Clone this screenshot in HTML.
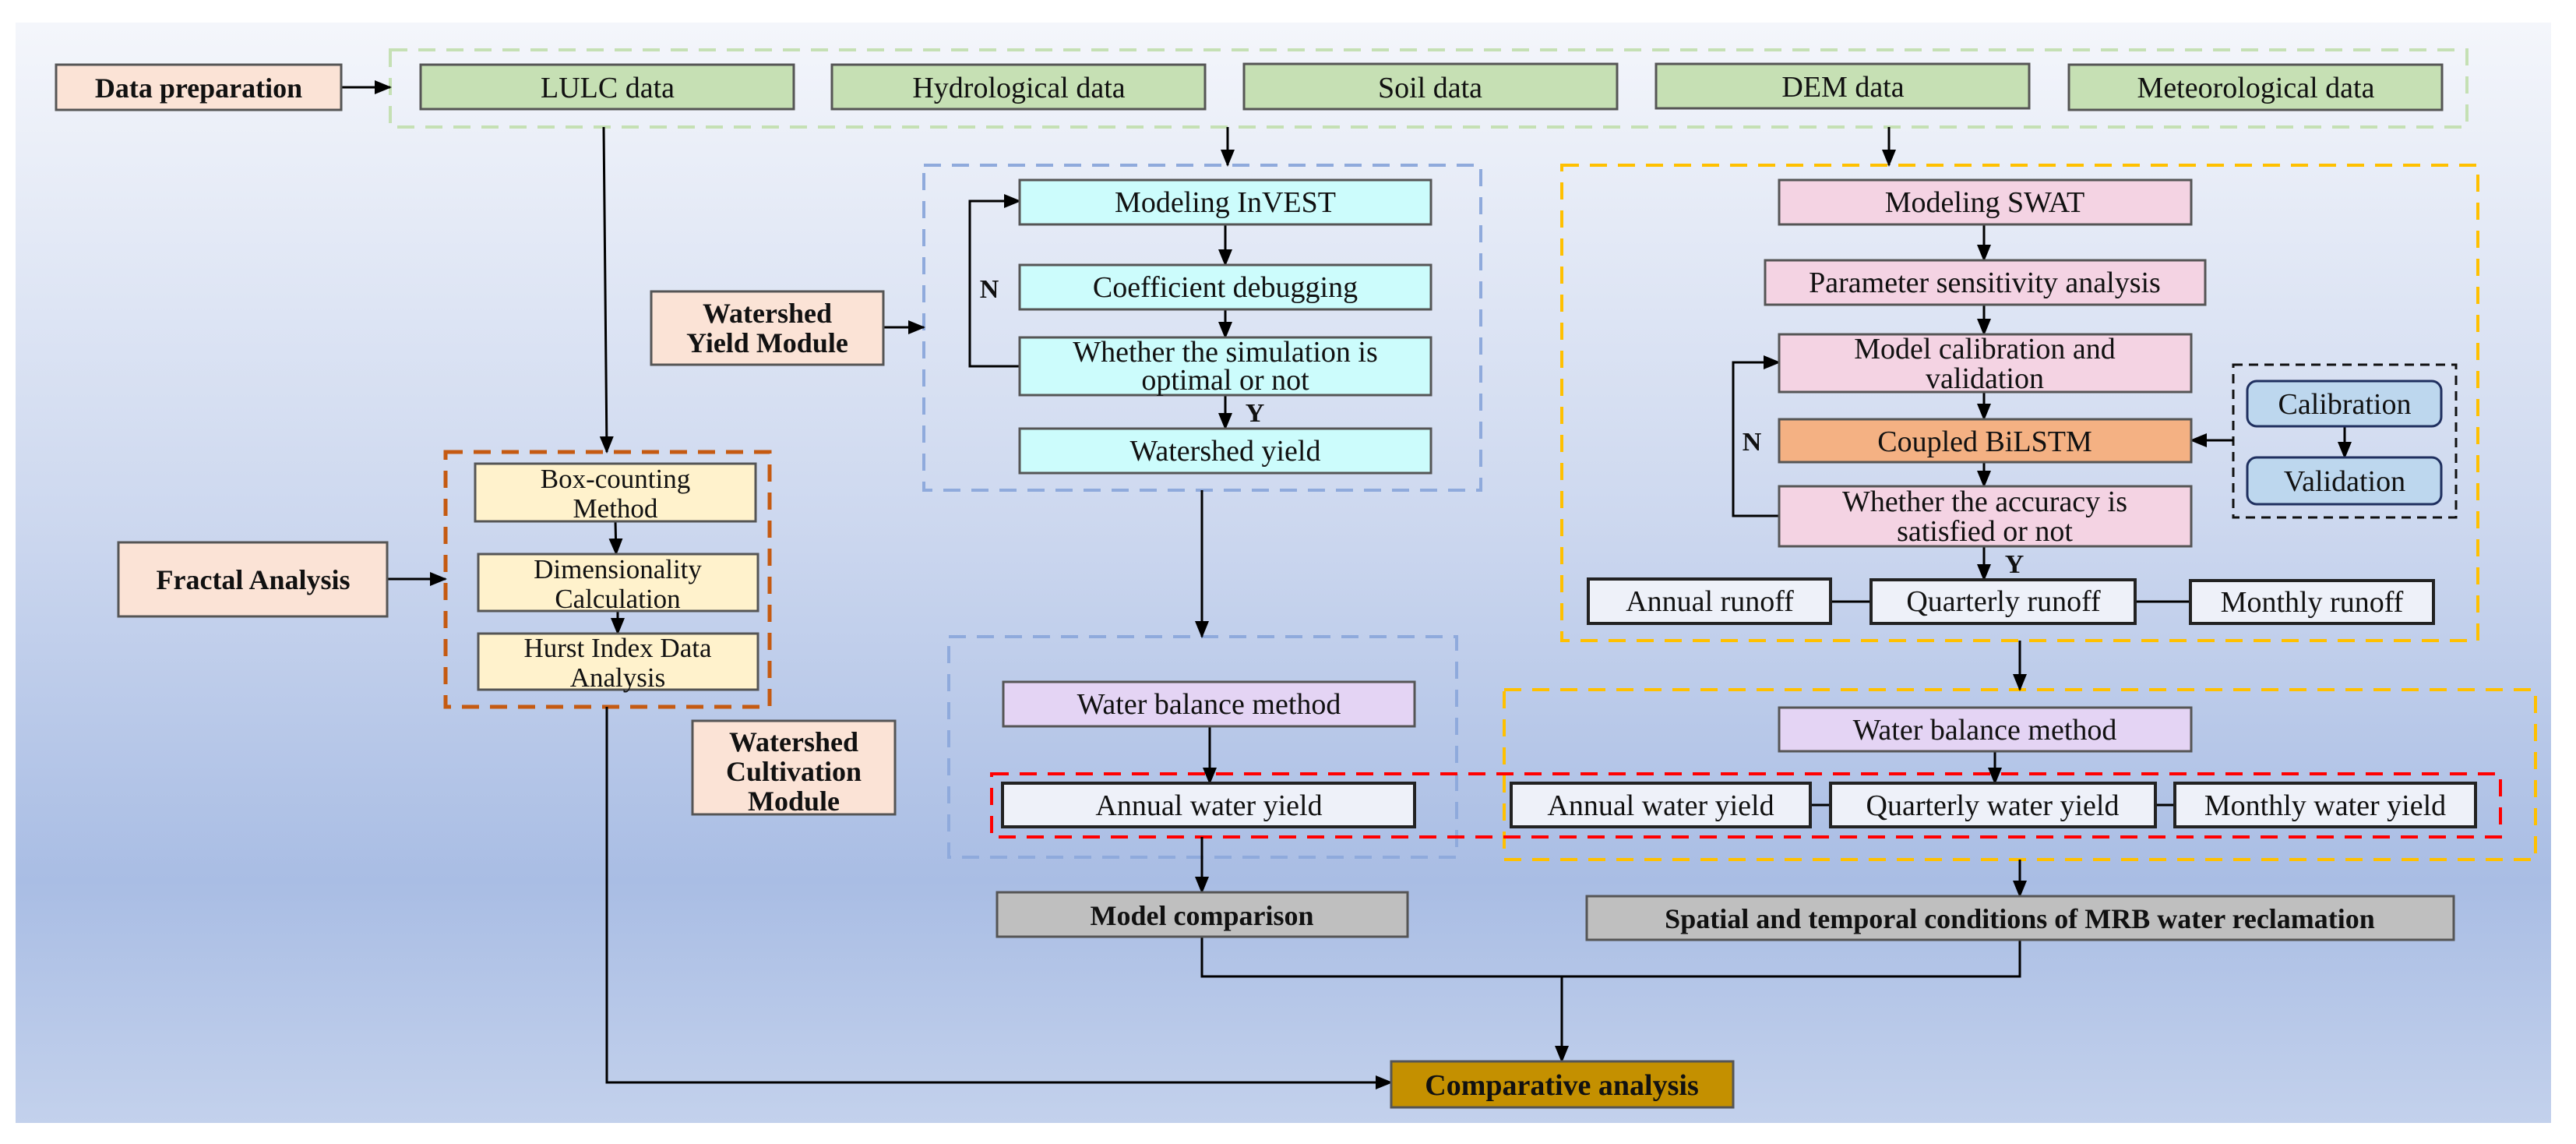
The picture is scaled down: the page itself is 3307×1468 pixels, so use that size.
<!DOCTYPE html>
<html><head><meta charset="utf-8"><style>
html,body{margin:0;padding:0;background:#fff;}
svg{display:block;}
</style></head><body>
<svg width="3307" height="1468" viewBox="0 0 3307 1468" xmlns="http://www.w3.org/2000/svg">
<defs>
<linearGradient id="bg" x1="0" y1="0" x2="0" y2="1">
<stop offset="0" stop-color="#f4f6fb"/>
<stop offset="0.45" stop-color="#cdd8ef"/>
<stop offset="0.78" stop-color="#a9bde4"/>
<stop offset="1" stop-color="#c3d1ec"/>
</linearGradient>
<marker id="a" markerWidth="22" markerHeight="22" refX="20" refY="11" orient="auto" markerUnits="userSpaceOnUse">
<path d="M0,2 L22,11 L0,20 z" fill="#000"/>
</marker>
</defs>
<rect x="20" y="29" width="3255" height="1412" fill="url(#bg)"/>

<g fill="none" stroke-width="4" stroke-dasharray="22,14">
<rect x="501" y="64" width="2666" height="99" stroke="#c5e0b4"/>
<rect x="1186" y="212" width="715" height="417" stroke="#8faadc"/>
<rect x="2005" y="212" width="1176" height="610" stroke="#ffc000"/>
<rect x="572" y="580" width="416" height="327" stroke="#c55a11" stroke-width="5"/>
<rect x="1218" y="817" width="652" height="283" stroke="#8faadc"/>
<rect x="1931" y="885" width="1324" height="218" stroke="#ffc000"/>
<rect x="1273" y="993" width="1937" height="81" stroke="#ff0000"/>
<rect x="2867" y="468" width="286" height="196" stroke="#111" stroke-width="3" stroke-dasharray="12,8"/>
</g>

<g stroke="#000" stroke-width="3" fill="none">
<line x1="438" y1="112" x2="501" y2="112" marker-end="url(#a)"/>
<line x1="775" y1="163" x2="779" y2="580" marker-end="url(#a)"/>
<line x1="1576" y1="163" x2="1576" y2="212" marker-end="url(#a)"/>
<line x1="2425" y1="163" x2="2425" y2="212" marker-end="url(#a)"/>
<line x1="1134" y1="420" x2="1186" y2="420" marker-end="url(#a)"/>
<line x1="1573" y1="288" x2="1573" y2="340" marker-end="url(#a)"/>
<line x1="1573" y1="397" x2="1573" y2="433" marker-end="url(#a)"/>
<line x1="1573" y1="507" x2="1573" y2="550" marker-end="url(#a)"/>
<polyline points="1309,470 1245,470 1245,258 1309,258" marker-end="url(#a)"/>
<line x1="1543" y1="629" x2="1543" y2="817" marker-end="url(#a)"/>
<line x1="790" y1="669" x2="791" y2="711" marker-end="url(#a)"/>
<line x1="793" y1="784" x2="793" y2="813" marker-end="url(#a)"/>
<line x1="497" y1="743" x2="572" y2="743" marker-end="url(#a)"/>
<line x1="2547" y1="288" x2="2547" y2="334" marker-end="url(#a)"/>
<line x1="2547" y1="391" x2="2547" y2="429" marker-end="url(#a)"/>
<line x1="2547" y1="503" x2="2547" y2="538" marker-end="url(#a)"/>
<line x1="2547" y1="593" x2="2547" y2="624" marker-end="url(#a)"/>
<line x1="2547" y1="701" x2="2547" y2="744" marker-end="url(#a)"/>
<polyline points="2284,662 2225,662 2225,465 2284,465" marker-end="url(#a)"/>
<line x1="2867" y1="565" x2="2813" y2="565" marker-end="url(#a)"/>
<line x1="3010" y1="547" x2="3010" y2="587" marker-end="url(#a)"/>
<line x1="2350" y1="772" x2="2402" y2="772"/>
<line x1="2741" y1="772" x2="2812" y2="772"/>
<line x1="2593" y1="822" x2="2593" y2="885" marker-end="url(#a)"/>
<line x1="1553" y1="932" x2="1553" y2="1005" marker-end="url(#a)"/>
<line x1="2561" y1="964" x2="2561" y2="1005" marker-end="url(#a)"/>
<line x1="2324" y1="1033" x2="2350" y2="1033"/>
<line x1="2767" y1="1033" x2="2792" y2="1033"/>
<line x1="1543" y1="1074" x2="1543" y2="1145" marker-end="url(#a)"/>
<line x1="2593" y1="1103" x2="2593" y2="1150" marker-end="url(#a)"/>
<polyline points="1543,1202 1543,1253 2593,1253 2593,1206"/>
<line x1="2005" y1="1253" x2="2005" y2="1362" marker-end="url(#a)"/>
<polyline points="779,907 779,1389 1786,1389" marker-end="url(#a)"/>
</g>

<g stroke="#555" stroke-width="3">
<rect x="72" y="83" width="366" height="58" fill="#fbe3d6"/>
<rect x="540" y="83" width="479" height="57" fill="#c6e0b4"/>
<rect x="1068" y="83" width="479" height="57" fill="#c6e0b4"/>
<rect x="1597" y="82" width="479" height="58" fill="#c6e0b4"/>
<rect x="2126" y="82" width="479" height="57" fill="#c6e0b4"/>
<rect x="2656" y="83" width="479" height="58" fill="#c6e0b4"/>
<rect x="836" y="374" width="298" height="94" fill="#fbe3d6"/>
<rect x="152" y="696" width="345" height="95" fill="#fbe3d6"/>
<rect x="889" y="925" width="260" height="120" fill="#fbe3d6"/>
<rect x="1309" y="231" width="528" height="57" fill="#ccfcfc"/>
<rect x="1309" y="340" width="528" height="57" fill="#ccfcfc"/>
<rect x="1309" y="433" width="528" height="74" fill="#ccfcfc"/>
<rect x="1309" y="550" width="528" height="57" fill="#ccfcfc"/>
<rect x="610" y="595" width="360" height="74" fill="#fff2cc"/>
<rect x="614" y="711" width="359" height="73" fill="#fff2cc"/>
<rect x="614" y="813" width="359" height="72" fill="#fff2cc"/>
<rect x="2284" y="231" width="529" height="57" fill="#f4d3e3"/>
<rect x="2266" y="334" width="565" height="57" fill="#f4d3e3"/>
<rect x="2284" y="429" width="529" height="74" fill="#f4d3e3"/>
<rect x="2284" y="538" width="529" height="55" fill="#f4b183"/>
<rect x="2284" y="624" width="529" height="77" fill="#f4d3e3"/>
<rect x="1288" y="875" width="528" height="57" fill="#e4d4f4"/>
<rect x="2284" y="908" width="529" height="56" fill="#e4d4f4"/>
<rect x="1280" y="1145" width="527" height="57" fill="#bfbfbf"/>
<rect x="2037" y="1150" width="1113" height="56" fill="#bfbfbf"/>
<rect x="1786" y="1362" width="439" height="59" fill="#c49000"/>
</g>
<g stroke="#1f2f5f" stroke-width="3" fill="#bdd7ee">
<rect x="2885" y="489" width="249" height="58" rx="12"/>
<rect x="2885" y="587" width="249" height="60" rx="12"/>
</g>
<g stroke="#222" stroke-width="4" fill="#eef1f9">
<rect x="2039" y="743" width="311" height="57"/>
<rect x="2402" y="744" width="339" height="56"/>
<rect x="2812" y="745" width="312" height="55"/>
<rect x="1287" y="1005" width="529" height="56"/>
<rect x="1940" y="1005" width="384" height="56"/>
<rect x="2350" y="1005" width="417" height="56"/>
<rect x="2792" y="1005" width="386" height="56"/>
</g>

<g font-family="Liberation Serif, serif" font-size="38" text-anchor="middle" fill="#111">
<text font-weight="bold" x="255" y="125" font-size="36">Data preparation</text>
<text x="780" y="125">LULC data</text>
<text x="1308" y="125">Hydrological data</text>
<text x="1836" y="125">Soil data</text>
<text x="2366" y="124">DEM data</text>
<text x="2896" y="125">Meteorological data</text>
<text font-weight="bold" x="985" y="414" font-size="36">Watershed</text>
<text font-weight="bold" x="985" y="452" font-size="36">Yield Module</text>
<text font-weight="bold" x="325" y="756" font-size="36">Fractal Analysis</text>
<text font-weight="bold" x="1019" y="964" font-size="36">Watershed</text>
<text font-weight="bold" x="1019" y="1002" font-size="36">Cultivation</text>
<text font-weight="bold" x="1019" y="1040" font-size="36">Module</text>
<text x="1573" y="272">Modeling InVEST</text>
<text x="1573" y="381">Coefficient debugging</text>
<text x="1573" y="464">Whether the simulation is</text>
<text x="1573" y="500">optimal or not</text>
<text x="1573" y="591">Watershed yield</text>
<text font-weight="bold" x="1270" y="382" font-size="34">N</text>
<text font-weight="bold" x="1611" y="541" font-size="34">Y</text>
<text x="790" y="626" font-size="35">Box-counting</text>
<text x="790" y="664" font-size="35">Method</text>
<text x="793" y="742" font-size="35">Dimensionality</text>
<text x="793" y="780" font-size="35">Calculation</text>
<text x="793" y="843" font-size="35">Hurst Index Data</text>
<text x="793" y="881" font-size="35">Analysis</text>
<text x="2548" y="272">Modeling SWAT</text>
<text x="2548" y="375">Parameter sensitivity analysis</text>
<text x="2548" y="460">Model calibration and</text>
<text x="2548" y="498">validation</text>
<text x="2548" y="579">Coupled BiLSTM</text>
<text x="2548" y="656">Whether the accuracy is</text>
<text x="2548" y="694">satisfied or not</text>
<text font-weight="bold" x="2249" y="578" font-size="34">N</text>
<text font-weight="bold" x="2586" y="735" font-size="34">Y</text>
<text x="3010" y="531">Calibration</text>
<text x="3010" y="630">Validation</text>
<text x="2195" y="784">Annual runoff</text>
<text x="2572" y="784">Quarterly runoff</text>
<text x="2968" y="785">Monthly runoff</text>
<text x="1552" y="916">Water balance method</text>
<text x="2548" y="949">Water balance method</text>
<text x="1552" y="1046">Annual water yield</text>
<text x="2132" y="1046">Annual water yield</text>
<text x="2558" y="1046">Quarterly water yield</text>
<text x="2985" y="1046">Monthly water yield</text>
<text font-weight="bold" x="1543" y="1187" font-size="36">Model comparison</text>
<text font-weight="bold" x="2593" y="1191" font-size="36">Spatial and temporal conditions of MRB water reclamation</text>
<text font-weight="bold" x="2005" y="1405" font-size="38">Comparative analysis</text>
</g>
</svg>
</body></html>
